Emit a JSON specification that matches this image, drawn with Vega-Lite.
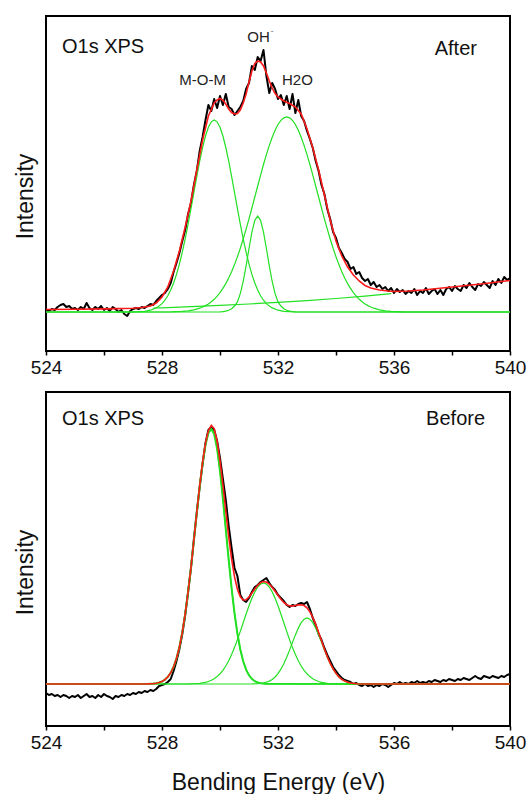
{
"$schema": "https://vega.github.io/schema/vega-lite/v6.json",
"padding": {"left": 13, "top": 15, "right": 5, "bottom": 5},
"spacing": 41,
"bounds": "flush",
"config": {"font": "Liberation Sans", "view": {"stroke": "black", "strokeWidth": 2}, "axis": {"grid": false, "domain": false, "labelFont": "Liberation Sans", "titleFont": "Liberation Sans", "labelColor": "#111", "titleColor": "#111", "titleFontWeight": "normal"}},
"datasets": {
"top": [
{"s":"d","x":524.0,"y":41},{"s":"d","x":524.1,"y":40},{"s":"d","x":524.2,"y":42},{"s":"d","x":524.3,"y":41},{"s":"d","x":524.4,"y":44},{"s":"d","x":524.5,"y":46},{"s":"d","x":524.6,"y":47},{"s":"d","x":524.7,"y":44},{"s":"d","x":524.8,"y":45},{"s":"d","x":524.9,"y":42},
{"s":"d","x":525.0,"y":43},{"s":"d","x":525.1,"y":41},{"s":"d","x":525.2,"y":44},{"s":"d","x":525.3,"y":42},{"s":"d","x":525.4,"y":48},{"s":"d","x":525.5,"y":43},{"s":"d","x":525.6,"y":41},{"s":"d","x":525.7,"y":44},{"s":"d","x":525.8,"y":42},{"s":"d","x":525.9,"y":45},
{"s":"d","x":526.0,"y":41},{"s":"d","x":526.1,"y":43},{"s":"d","x":526.2,"y":40},{"s":"d","x":526.3,"y":44},{"s":"d","x":526.4,"y":42},{"s":"d","x":526.5,"y":39},{"s":"d","x":526.6,"y":41},{"s":"d","x":526.7,"y":37},{"s":"d","x":526.8,"y":35},{"s":"d","x":526.9,"y":40},
{"s":"d","x":527.0,"y":42},{"s":"d","x":527.1,"y":43},{"s":"d","x":527.2,"y":42},{"s":"d","x":527.3,"y":44},{"s":"d","x":527.4,"y":43},{"s":"d","x":527.5,"y":45},{"s":"d","x":527.6,"y":47},{"s":"d","x":527.7,"y":46},{"s":"d","x":527.8,"y":50},{"s":"d","x":527.9,"y":53},
{"s":"d","x":528.0,"y":56},{"s":"d","x":528.1,"y":58},{"s":"d","x":528.2,"y":62},{"s":"d","x":528.3,"y":68},{"s":"d","x":528.4,"y":79},{"s":"d","x":528.5,"y":88},{"s":"d","x":528.6,"y":98},{"s":"d","x":528.7,"y":110},{"s":"d","x":528.8,"y":121},{"s":"d","x":528.9,"y":137},
{"s":"d","x":529.0,"y":148},{"s":"d","x":529.1,"y":166},{"s":"d","x":529.2,"y":180},{"s":"d","x":529.3,"y":200},{"s":"d","x":529.4,"y":214},{"s":"d","x":529.5,"y":231},{"s":"d","x":529.6,"y":246},{"s":"d","x":529.7,"y":240},{"s":"d","x":529.8,"y":252},{"s":"d","x":529.9,"y":243},
{"s":"d","x":530.0,"y":255},{"s":"d","x":530.1,"y":246},{"s":"d","x":530.2,"y":257},{"s":"d","x":530.3,"y":244},{"s":"d","x":530.4,"y":242},{"s":"d","x":530.5,"y":236},{"s":"d","x":530.6,"y":240},{"s":"d","x":530.7,"y":244},{"s":"d","x":530.8,"y":250},{"s":"d","x":530.9,"y":262},
{"s":"d","x":531.0,"y":268},{"s":"d","x":531.1,"y":285},{"s":"d","x":531.2,"y":281},{"s":"d","x":531.3,"y":294},{"s":"d","x":531.4,"y":290},{"s":"d","x":531.5,"y":301},{"s":"d","x":531.6,"y":275},{"s":"d","x":531.7,"y":258},{"s":"d","x":531.8,"y":268},{"s":"d","x":531.9,"y":262},
{"s":"d","x":532.0,"y":252},{"s":"d","x":532.1,"y":256},{"s":"d","x":532.2,"y":246},{"s":"d","x":532.3,"y":255},{"s":"d","x":532.4,"y":242},{"s":"d","x":532.5,"y":257},{"s":"d","x":532.6,"y":238},{"s":"d","x":532.7,"y":251},{"s":"d","x":532.8,"y":235},{"s":"d","x":532.9,"y":230},
{"s":"d","x":533.0,"y":220},{"s":"d","x":533.1,"y":212},{"s":"d","x":533.2,"y":203},{"s":"d","x":533.3,"y":190},{"s":"d","x":533.4,"y":180},{"s":"d","x":533.5,"y":166},{"s":"d","x":533.6,"y":157},{"s":"d","x":533.7,"y":142},{"s":"d","x":533.8,"y":132},{"s":"d","x":533.9,"y":119},
{"s":"d","x":534.0,"y":113},{"s":"d","x":534.1,"y":103},{"s":"d","x":534.2,"y":98},{"s":"d","x":534.3,"y":92},{"s":"d","x":534.4,"y":89},{"s":"d","x":534.5,"y":82},{"s":"d","x":534.6,"y":84},{"s":"d","x":534.7,"y":77},{"s":"d","x":534.8,"y":79},{"s":"d","x":534.9,"y":73},
{"s":"d","x":535.0,"y":70},{"s":"d","x":535.1,"y":72},{"s":"d","x":535.2,"y":66},{"s":"d","x":535.3,"y":69},{"s":"d","x":535.4,"y":64},{"s":"d","x":535.5,"y":66},{"s":"d","x":535.6,"y":62},{"s":"d","x":535.7,"y":64},{"s":"d","x":535.8,"y":60},{"s":"d","x":535.9,"y":63},
{"s":"d","x":536.0,"y":58},{"s":"d","x":536.1,"y":62},{"s":"d","x":536.2,"y":59},{"s":"d","x":536.3,"y":61},{"s":"d","x":536.4,"y":57},{"s":"d","x":536.5,"y":60},{"s":"d","x":536.6,"y":58},{"s":"d","x":536.7,"y":62},{"s":"d","x":536.8,"y":56},{"s":"d","x":536.9,"y":60},
{"s":"d","x":537.0,"y":58},{"s":"d","x":537.1,"y":63},{"s":"d","x":537.2,"y":57},{"s":"d","x":537.3,"y":60},{"s":"d","x":537.4,"y":62},{"s":"d","x":537.5,"y":57},{"s":"d","x":537.6,"y":61},{"s":"d","x":537.7,"y":56},{"s":"d","x":537.8,"y":62},{"s":"d","x":537.9,"y":64},
{"s":"d","x":538.0,"y":60},{"s":"d","x":538.1,"y":65},{"s":"d","x":538.2,"y":62},{"s":"d","x":538.3,"y":60},{"s":"d","x":538.4,"y":66},{"s":"d","x":538.5,"y":63},{"s":"d","x":538.6,"y":68},{"s":"d","x":538.7,"y":64},{"s":"d","x":538.8,"y":61},{"s":"d","x":538.9,"y":67},
{"s":"d","x":539.0,"y":65},{"s":"d","x":539.1,"y":69},{"s":"d","x":539.2,"y":66},{"s":"d","x":539.3,"y":63},{"s":"d","x":539.4,"y":70},{"s":"d","x":539.5,"y":66},{"s":"d","x":539.6,"y":72},{"s":"d","x":539.7,"y":68},{"s":"d","x":539.8,"y":74},{"s":"d","x":539.9,"y":71},{"s":"d","x":540.0,"y":73},
{"s":"f","x":524,"y":41.5},{"s":"f","x":525,"y":41.8},{"s":"f","x":526,"y":42.1},{"s":"f","x":527,"y":42.8},{"s":"f","x":527.3,"y":43.5},{"s":"f","x":527.6,"y":45},{"s":"f","x":527.8,"y":48},{"s":"f","x":528.0,"y":54},{"s":"f","x":528.2,"y":64},{"s":"f","x":528.4,"y":80},{"s":"f","x":528.6,"y":100},{"s":"f","x":528.8,"y":124},{"s":"f","x":529.0,"y":150},{"s":"f","x":529.2,"y":181},{"s":"f","x":529.4,"y":211},{"s":"f","x":529.6,"y":235},{"s":"f","x":529.8,"y":248},{"s":"f","x":529.9,"y":251},{"s":"f","x":530.0,"y":252.5},{"s":"f","x":530.1,"y":251},{"s":"f","x":530.2,"y":247},{"s":"f","x":530.3,"y":242},{"s":"f","x":530.4,"y":238.5},{"s":"f","x":530.5,"y":237},{"s":"f","x":530.6,"y":237.5},{"s":"f","x":530.7,"y":241},{"s":"f","x":530.8,"y":248},{"s":"f","x":530.9,"y":257},{"s":"f","x":531.0,"y":269},{"s":"f","x":531.1,"y":280},{"s":"f","x":531.2,"y":287.5},{"s":"f","x":531.3,"y":290},{"s":"f","x":531.4,"y":289},{"s":"f","x":531.5,"y":285},{"s":"f","x":531.6,"y":278},{"s":"f","x":531.7,"y":270},{"s":"f","x":531.8,"y":263},{"s":"f","x":531.9,"y":257.5},{"s":"f","x":532.0,"y":254},{"s":"f","x":532.2,"y":250},{"s":"f","x":532.4,"y":247.5},{"s":"f","x":532.6,"y":244},{"s":"f","x":532.8,"y":237},{"s":"f","x":533.0,"y":222},{"s":"f","x":533.2,"y":203},{"s":"f","x":533.4,"y":181},{"s":"f","x":533.6,"y":156},{"s":"f","x":533.8,"y":131},{"s":"f","x":534.0,"y":110},{"s":"f","x":534.2,"y":95},{"s":"f","x":534.4,"y":84},{"s":"f","x":534.6,"y":76},{"s":"f","x":534.8,"y":70},{"s":"f","x":535.0,"y":65.5},{"s":"f","x":535.2,"y":63},{"s":"f","x":535.5,"y":61},{"s":"f","x":535.8,"y":60},{"s":"f","x":536.0,"y":59.5},{"s":"f","x":536.5,"y":60},{"s":"f","x":537,"y":61},{"s":"f","x":537.5,"y":62.5},{"s":"f","x":538,"y":64},{"s":"f","x":538.5,"y":65.5},{"s":"f","x":539,"y":67},{"s":"f","x":539.5,"y":68.8},{"s":"f","x":540,"y":70.5},
{"s":"c1","x":524,"y":39},{"s":"c1","x":527.0,"y":39.1},{"s":"c1","x":527.2,"y":39.3},{"s":"c1","x":527.4,"y":39.7},{"s":"c1","x":527.6,"y":40.8},{"s":"c1","x":527.8,"y":43.1},{"s":"c1","x":527.9,"y":44.9},{"s":"c1","x":528.0,"y":47.4},{"s":"c1","x":528.1,"y":50.8},{"s":"c1","x":528.2,"y":55.3},{"s":"c1","x":528.3,"y":60.9},{"s":"c1","x":528.4,"y":68.0},{"s":"c1","x":528.5,"y":76.6},{"s":"c1","x":528.6,"y":86.9},{"s":"c1","x":528.7,"y":98.8},{"s":"c1","x":528.8,"y":112.2},{"s":"c1","x":528.9,"y":126.9},{"s":"c1","x":529.0,"y":142.6},{"s":"c1","x":529.1,"y":158.7},{"s":"c1","x":529.2,"y":174.7},{"s":"c1","x":529.3,"y":189.9},{"s":"c1","x":529.4,"y":203.5},{"s":"c1","x":529.5,"y":215.0},{"s":"c1","x":529.6,"y":223.7},{"s":"c1","x":529.7,"y":229.2},{"s":"c1","x":529.8,"y":231.0},{"s":"c1","x":529.9,"y":229.2},{"s":"c1","x":530.0,"y":223.7},{"s":"c1","x":530.1,"y":215.0},{"s":"c1","x":530.2,"y":203.5},{"s":"c1","x":530.3,"y":189.9},{"s":"c1","x":530.4,"y":174.7},{"s":"c1","x":530.5,"y":158.7},{"s":"c1","x":530.6,"y":142.6},{"s":"c1","x":530.7,"y":126.9},{"s":"c1","x":530.8,"y":112.2},{"s":"c1","x":530.9,"y":98.8},{"s":"c1","x":531.0,"y":86.9},{"s":"c1","x":531.1,"y":76.6},{"s":"c1","x":531.2,"y":68.0},{"s":"c1","x":531.3,"y":60.9},{"s":"c1","x":531.4,"y":55.3},{"s":"c1","x":531.5,"y":50.8},{"s":"c1","x":531.6,"y":47.4},{"s":"c1","x":531.7,"y":44.9},{"s":"c1","x":531.8,"y":43.1},{"s":"c1","x":532.0,"y":40.8},{"s":"c1","x":532.2,"y":39.7},{"s":"c1","x":532.4,"y":39.3},{"s":"c1","x":532.6,"y":39.1},{"s":"c1","x":540,"y":39},
{"s":"c2","x":524,"y":39},{"s":"c2","x":530.0,"y":39.1},{"s":"c2","x":530.1,"y":39.4},{"s":"c2","x":530.2,"y":39.9},{"s":"c2","x":530.3,"y":40.8},{"s":"c2","x":530.4,"y":42.2},{"s":"c2","x":530.5,"y":45.0},{"s":"c2","x":530.6,"y":49.1},{"s":"c2","x":530.7,"y":57.4},{"s":"c2","x":530.8,"y":69.5},{"s":"c2","x":530.9,"y":85.1},{"s":"c2","x":531.0,"y":102.5},{"s":"c2","x":531.1,"y":118.9},{"s":"c2","x":531.2,"y":130.7},{"s":"c2","x":531.3,"y":135},{"s":"c2","x":531.4,"y":130.7},{"s":"c2","x":531.5,"y":118.9},{"s":"c2","x":531.6,"y":102.5},{"s":"c2","x":531.7,"y":85.1},{"s":"c2","x":531.8,"y":69.5},{"s":"c2","x":531.9,"y":57.4},{"s":"c2","x":532.0,"y":49.1},{"s":"c2","x":532.1,"y":45.0},{"s":"c2","x":532.2,"y":42.2},{"s":"c2","x":532.3,"y":40.8},{"s":"c2","x":532.4,"y":39.9},{"s":"c2","x":532.5,"y":39.4},{"s":"c2","x":532.6,"y":39.1},{"s":"c2","x":540,"y":39},
{"s":"c3","x":524,"y":39},{"s":"c3","x":528.3,"y":39.2},{"s":"c3","x":528.5,"y":39.4},{"s":"c3","x":528.7,"y":39.7},{"s":"c3","x":528.9,"y":40.2},{"s":"c3","x":529.1,"y":41.2},{"s":"c3","x":529.3,"y":42.8},{"s":"c3","x":529.4,"y":44.0},{"s":"c3","x":529.5,"y":45.4},{"s":"c3","x":529.6,"y":47.1},{"s":"c3","x":529.7,"y":49.2},{"s":"c3","x":529.8,"y":51.7},{"s":"c3","x":529.9,"y":54.8},{"s":"c3","x":530.0,"y":58.3},{"s":"c3","x":530.1,"y":62.6},{"s":"c3","x":530.2,"y":67.4},{"s":"c3","x":530.3,"y":73.0},{"s":"c3","x":530.4,"y":79.3},{"s":"c3","x":530.5,"y":86.4},{"s":"c3","x":530.6,"y":94.2},{"s":"c3","x":530.7,"y":102.7},{"s":"c3","x":530.8,"y":112.0},{"s":"c3","x":530.9,"y":121.9},{"s":"c3","x":531.0,"y":132.2},{"s":"c3","x":531.1,"y":143.0},{"s":"c3","x":531.2,"y":154.0},{"s":"c3","x":531.3,"y":165.0},{"s":"c3","x":531.4,"y":175.9},{"s":"c3","x":531.5,"y":186.5},{"s":"c3","x":531.6,"y":196.4},{"s":"c3","x":531.7,"y":205.6},{"s":"c3","x":531.8,"y":213.8},{"s":"c3","x":531.9,"y":220.8},{"s":"c3","x":532.0,"y":226.5},{"s":"c3","x":532.1,"y":230.6},{"s":"c3","x":532.2,"y":233.1},{"s":"c3","x":532.3,"y":234.0},{"s":"c3","x":532.4,"y":233.1},{"s":"c3","x":532.5,"y":230.6},{"s":"c3","x":532.6,"y":226.5},{"s":"c3","x":532.7,"y":220.8},{"s":"c3","x":532.8,"y":213.8},{"s":"c3","x":532.9,"y":205.6},{"s":"c3","x":533.0,"y":196.4},{"s":"c3","x":533.1,"y":186.5},{"s":"c3","x":533.2,"y":175.9},{"s":"c3","x":533.3,"y":165.0},{"s":"c3","x":533.4,"y":154.0},{"s":"c3","x":533.5,"y":143.0},{"s":"c3","x":533.6,"y":132.2},{"s":"c3","x":533.7,"y":121.9},{"s":"c3","x":533.8,"y":112.0},{"s":"c3","x":533.9,"y":102.7},{"s":"c3","x":534.0,"y":94.2},{"s":"c3","x":534.1,"y":86.4},{"s":"c3","x":534.2,"y":79.3},{"s":"c3","x":534.3,"y":73.0},{"s":"c3","x":534.4,"y":67.4},{"s":"c3","x":534.5,"y":62.6},{"s":"c3","x":534.6,"y":58.3},{"s":"c3","x":534.7,"y":54.8},{"s":"c3","x":534.8,"y":51.7},{"s":"c3","x":534.9,"y":49.2},{"s":"c3","x":535.0,"y":47.1},{"s":"c3","x":535.1,"y":45.4},{"s":"c3","x":535.2,"y":44.0},{"s":"c3","x":535.3,"y":42.8},{"s":"c3","x":535.5,"y":41.2},{"s":"c3","x":535.7,"y":40.2},{"s":"c3","x":535.9,"y":39.7},{"s":"c3","x":536.1,"y":39.4},{"s":"c3","x":536.3,"y":39.2},{"s":"c3","x":540,"y":39},
{"s":"bg","x":527.7,"y":43.0},{"s":"bg","x":528,"y":43.2},{"s":"bg","x":529,"y":44.3},{"s":"bg","x":530,"y":45.6},{"s":"bg","x":531,"y":47.0},{"s":"bg","x":532,"y":48.6},{"s":"bg","x":533,"y":50.4},{"s":"bg","x":534,"y":52.5},{"s":"bg","x":535,"y":54.9},{"s":"bg","x":535.9,"y":57.3}
],
"bottom": [
{"s":"d","x":524.0,"y":33},{"s":"d","x":524.1,"y":31},{"s":"d","x":524.2,"y":32},{"s":"d","x":524.3,"y":30},{"s":"d","x":524.4,"y":31},{"s":"d","x":524.5,"y":29},{"s":"d","x":524.6,"y":31},{"s":"d","x":524.7,"y":30},{"s":"d","x":524.8,"y":28},{"s":"d","x":524.9,"y":30},
{"s":"d","x":525.0,"y":29},{"s":"d","x":525.1,"y":31},{"s":"d","x":525.2,"y":28},{"s":"d","x":525.3,"y":30},{"s":"d","x":525.4,"y":32},{"s":"d","x":525.5,"y":29},{"s":"d","x":525.6,"y":30},{"s":"d","x":525.7,"y":28},{"s":"d","x":525.8,"y":31},{"s":"d","x":525.9,"y":29},
{"s":"d","x":526.0,"y":32},{"s":"d","x":526.1,"y":30},{"s":"d","x":526.2,"y":29},{"s":"d","x":526.3,"y":27},{"s":"d","x":526.4,"y":30},{"s":"d","x":526.5,"y":29},{"s":"d","x":526.6,"y":31},{"s":"d","x":526.7,"y":30},{"s":"d","x":526.8,"y":32},{"s":"d","x":526.9,"y":31},
{"s":"d","x":527.0,"y":33},{"s":"d","x":527.1,"y":32},{"s":"d","x":527.2,"y":34},{"s":"d","x":527.3,"y":33},{"s":"d","x":527.4,"y":35},{"s":"d","x":527.5,"y":34},{"s":"d","x":527.6,"y":36},{"s":"d","x":527.7,"y":35},{"s":"d","x":527.8,"y":37},{"s":"d","x":527.9,"y":40},
{"s":"d","x":528.0,"y":41},{"s":"d","x":528.1,"y":42},{"s":"d","x":528.2,"y":44},{"s":"d","x":528.3,"y":47},{"s":"d","x":528.4,"y":55},{"s":"d","x":528.5,"y":65},{"s":"d","x":528.6,"y":77},{"s":"d","x":528.7,"y":92},{"s":"d","x":528.8,"y":111},{"s":"d","x":528.9,"y":134},
{"s":"d","x":529.0,"y":158},{"s":"d","x":529.1,"y":187},{"s":"d","x":529.2,"y":214},{"s":"d","x":529.3,"y":239},{"s":"d","x":529.4,"y":262},{"s":"d","x":529.5,"y":283},{"s":"d","x":529.6,"y":296},{"s":"d","x":529.7,"y":299},{"s":"d","x":529.8,"y":296},{"s":"d","x":529.9,"y":285},
{"s":"d","x":530.0,"y":268},{"s":"d","x":530.1,"y":247},{"s":"d","x":530.2,"y":226},{"s":"d","x":530.3,"y":200},{"s":"d","x":530.4,"y":178},{"s":"d","x":530.5,"y":158},{"s":"d","x":530.6,"y":150},{"s":"d","x":530.7,"y":131},{"s":"d","x":530.8,"y":126},{"s":"d","x":530.9,"y":124},
{"s":"d","x":531.0,"y":128},{"s":"d","x":531.1,"y":134},{"s":"d","x":531.2,"y":139},{"s":"d","x":531.3,"y":141},{"s":"d","x":531.4,"y":144},{"s":"d","x":531.5,"y":146},{"s":"d","x":531.6,"y":148},{"s":"d","x":531.7,"y":143},{"s":"d","x":531.8,"y":139},{"s":"d","x":531.9,"y":136},
{"s":"d","x":532.0,"y":131},{"s":"d","x":532.1,"y":128},{"s":"d","x":532.2,"y":125},{"s":"d","x":532.3,"y":121},{"s":"d","x":532.4,"y":119},{"s":"d","x":532.5,"y":121},{"s":"d","x":532.6,"y":120},{"s":"d","x":532.7,"y":122},{"s":"d","x":532.8,"y":123},{"s":"d","x":532.9,"y":122},
{"s":"d","x":533.0,"y":124},{"s":"d","x":533.1,"y":117},{"s":"d","x":533.2,"y":108},{"s":"d","x":533.3,"y":101},{"s":"d","x":533.4,"y":92},{"s":"d","x":533.5,"y":86},{"s":"d","x":533.6,"y":78},{"s":"d","x":533.7,"y":71},{"s":"d","x":533.8,"y":65},{"s":"d","x":533.9,"y":59},
{"s":"d","x":534.0,"y":55},{"s":"d","x":534.1,"y":51},{"s":"d","x":534.2,"y":48},{"s":"d","x":534.3,"y":46},{"s":"d","x":534.4,"y":45},{"s":"d","x":534.5,"y":44},{"s":"d","x":534.6,"y":42},{"s":"d","x":534.7,"y":43},{"s":"d","x":534.8,"y":41},{"s":"d","x":534.9,"y":40},
{"s":"d","x":535.0,"y":42},{"s":"d","x":535.1,"y":40},{"s":"d","x":535.2,"y":41},{"s":"d","x":535.3,"y":39},{"s":"d","x":535.4,"y":41},{"s":"d","x":535.5,"y":40},{"s":"d","x":535.6,"y":42},{"s":"d","x":535.7,"y":41},{"s":"d","x":535.8,"y":39},{"s":"d","x":535.9,"y":41},
{"s":"d","x":536.0,"y":43},{"s":"d","x":536.1,"y":42},{"s":"d","x":536.2,"y":44},{"s":"d","x":536.3,"y":42},{"s":"d","x":536.4,"y":43},{"s":"d","x":536.5,"y":42},{"s":"d","x":536.6,"y":44},{"s":"d","x":536.7,"y":43},{"s":"d","x":536.8,"y":45},{"s":"d","x":536.9,"y":43},
{"s":"d","x":537.0,"y":44},{"s":"d","x":537.1,"y":43},{"s":"d","x":537.2,"y":45},{"s":"d","x":537.3,"y":44},{"s":"d","x":537.4,"y":46},{"s":"d","x":537.5,"y":45},{"s":"d","x":537.6,"y":44},{"s":"d","x":537.7,"y":46},{"s":"d","x":537.8,"y":45},{"s":"d","x":537.9,"y":47},
{"s":"d","x":538.0,"y":46},{"s":"d","x":538.1,"y":45},{"s":"d","x":538.2,"y":47},{"s":"d","x":538.3,"y":46},{"s":"d","x":538.4,"y":48},{"s":"d","x":538.5,"y":47},{"s":"d","x":538.6,"y":46},{"s":"d","x":538.7,"y":48},{"s":"d","x":538.8,"y":50},{"s":"d","x":538.9,"y":48},
{"s":"d","x":539.0,"y":47},{"s":"d","x":539.1,"y":50},{"s":"d","x":539.2,"y":49},{"s":"d","x":539.3,"y":48},{"s":"d","x":539.4,"y":50},{"s":"d","x":539.5,"y":49},{"s":"d","x":539.6,"y":48},{"s":"d","x":539.7,"y":50},{"s":"d","x":539.8,"y":49},{"s":"d","x":539.9,"y":51},{"s":"d","x":540.0,"y":52},
{"s":"f","x":524,"y":42},{"s":"f","x":527.5,"y":42.1},{"s":"f","x":527.7,"y":42.4},{"s":"f","x":527.8,"y":42.8},{"s":"f","x":527.9,"y":43.5},{"s":"f","x":528.0,"y":44.5},{"s":"f","x":528.1,"y":46.3},{"s":"f","x":528.2,"y":49.1},{"s":"f","x":528.3,"y":53.2},{"s":"f","x":528.4,"y":59.2},{"s":"f","x":528.5,"y":67.7},{"s":"f","x":528.6,"y":79.0},{"s":"f","x":528.7,"y":93.8},{"s":"f","x":528.8,"y":112.1},{"s":"f","x":528.9,"y":134.0},{"s":"f","x":529.0,"y":158.9},{"s":"f","x":529.1,"y":185.9},{"s":"f","x":529.2,"y":213.7},{"s":"f","x":529.3,"y":240.3},{"s":"f","x":529.4,"y":264.1},{"s":"f","x":529.5,"y":282.9},{"s":"f","x":529.6,"y":295.5},{"s":"f","x":529.7,"y":300.7},{"s":"f","x":529.8,"y":297.3},{"s":"f","x":529.9,"y":284.8},{"s":"f","x":530.0,"y":265.2},{"s":"f","x":530.1,"y":240.9},{"s":"f","x":530.2,"y":214.7},{"s":"f","x":530.3,"y":189.3},{"s":"f","x":530.4,"y":167.1},{"s":"f","x":530.5,"y":149.3},{"s":"f","x":530.6,"y":136.7},{"s":"f","x":530.7,"y":129.1},{"s":"f","x":530.8,"y":126.0},{"s":"f","x":530.9,"y":126.3},{"s":"f","x":531.0,"y":129.0},{"s":"f","x":531.1,"y":133.0},{"s":"f","x":531.2,"y":137.0},{"s":"f","x":531.3,"y":140.8},{"s":"f","x":531.4,"y":143.4},{"s":"f","x":531.5,"y":144.4},{"s":"f","x":531.6,"y":144.0},{"s":"f","x":531.7,"y":141.9},{"s":"f","x":531.8,"y":138.7},{"s":"f","x":531.9,"y":134.8},{"s":"f","x":532.0,"y":130.7},{"s":"f","x":532.1,"y":126.8},{"s":"f","x":532.2,"y":123.5},{"s":"f","x":532.3,"y":121.3},{"s":"f","x":532.4,"y":120.1},{"s":"f","x":532.5,"y":120.0},{"s":"f","x":532.6,"y":120.5},{"s":"f","x":532.7,"y":121.1},{"s":"f","x":532.8,"y":121.3},{"s":"f","x":532.9,"y":120.5},{"s":"f","x":533.0,"y":118.2},{"s":"f","x":533.1,"y":114.2},{"s":"f","x":533.2,"y":108.6},{"s":"f","x":533.3,"y":101.6},{"s":"f","x":533.4,"y":93.6},{"s":"f","x":533.5,"y":85.3},{"s":"f","x":533.6,"y":77.1},{"s":"f","x":533.7,"y":69.4},{"s":"f","x":533.8,"y":62.7},{"s":"f","x":533.9,"y":57.1},{"s":"f","x":534.0,"y":52.6},{"s":"f","x":534.1,"y":49.1},{"s":"f","x":534.2,"y":46.6},{"s":"f","x":534.3,"y":44.9},{"s":"f","x":534.4,"y":43.8},{"s":"f","x":534.5,"y":43.0},{"s":"f","x":534.7,"y":42.3},{"s":"f","x":535.0,"y":42},{"s":"f","x":540,"y":42},
{"s":"c1","x":524,"y":42},{"s":"c1","x":527.5,"y":42.1},{"s":"c1","x":527.7,"y":42.4},{"s":"c1","x":527.8,"y":42.8},{"s":"c1","x":527.9,"y":43.5},{"s":"c1","x":528.0,"y":44.5},{"s":"c1","x":528.1,"y":46.3},{"s":"c1","x":528.2,"y":49.1},{"s":"c1","x":528.3,"y":53.2},{"s":"c1","x":528.4,"y":59.2},{"s":"c1","x":528.5,"y":67.7},{"s":"c1","x":528.6,"y":79.0},{"s":"c1","x":528.7,"y":93.8},{"s":"c1","x":528.8,"y":112.1},{"s":"c1","x":528.9,"y":133.9},{"s":"c1","x":529.0,"y":158.7},{"s":"c1","x":529.1,"y":185.6},{"s":"c1","x":529.2,"y":213.2},{"s":"c1","x":529.3,"y":239.6},{"s":"c1","x":529.4,"y":262.9},{"s":"c1","x":529.5,"y":281.2},{"s":"c1","x":529.6,"y":293.0},{"s":"c1","x":529.7,"y":297.0},{"s":"c1","x":529.8,"y":292.0},{"s":"c1","x":529.9,"y":277.4},{"s":"c1","x":530.0,"y":255.0},{"s":"c1","x":530.1,"y":227.2},{"s":"c1","x":530.2,"y":196.7},{"s":"c1","x":530.3,"y":166.1},{"s":"c1","x":530.4,"y":137.7},{"s":"c1","x":530.5,"y":112.9},{"s":"c1","x":530.6,"y":92.5},{"s":"c1","x":530.7,"y":76.5},{"s":"c1","x":530.8,"y":64.7},{"s":"c1","x":530.9,"y":56.3},{"s":"c1","x":531.0,"y":50.7},{"s":"c1","x":531.1,"y":47.1},{"s":"c1","x":531.2,"y":44.8},{"s":"c1","x":531.3,"y":43.5},{"s":"c1","x":531.4,"y":42.8},{"s":"c1","x":531.5,"y":42.4},{"s":"c1","x":531.6,"y":42.2},{"s":"c1","x":540,"y":42},
{"s":"c2","x":524,"y":42},{"s":"c2","x":528.9,"y":42.1},{"s":"c2","x":529.1,"y":42.3},{"s":"c2","x":529.3,"y":42.7},{"s":"c2","x":529.5,"y":43.7},{"s":"c2","x":529.6,"y":44.5},{"s":"c2","x":529.7,"y":45.7},{"s":"c2","x":529.8,"y":47.3},{"s":"c2","x":529.9,"y":49.4},{"s":"c2","x":530.0,"y":52.2},{"s":"c2","x":530.1,"y":55.7},{"s":"c2","x":530.2,"y":60.0},{"s":"c2","x":530.3,"y":65.2},{"s":"c2","x":530.4,"y":71.4},{"s":"c2","x":530.5,"y":78.4},{"s":"c2","x":530.6,"y":86.2},{"s":"c2","x":530.7,"y":94.6},{"s":"c2","x":530.8,"y":103.3},{"s":"c2","x":530.9,"y":112.0},{"s":"c2","x":531.0,"y":120.3},{"s":"c2","x":531.1,"y":127.8},{"s":"c2","x":531.2,"y":134.1},{"s":"c2","x":531.3,"y":139.0},{"s":"c2","x":531.4,"y":142.0},{"s":"c2","x":531.5,"y":143},{"s":"c2","x":531.6,"y":142.0},{"s":"c2","x":531.7,"y":139.0},{"s":"c2","x":531.8,"y":134.1},{"s":"c2","x":531.9,"y":127.8},{"s":"c2","x":532.0,"y":120.3},{"s":"c2","x":532.1,"y":112.0},{"s":"c2","x":532.2,"y":103.3},{"s":"c2","x":532.3,"y":94.6},{"s":"c2","x":532.4,"y":86.2},{"s":"c2","x":532.5,"y":78.4},{"s":"c2","x":532.6,"y":71.4},{"s":"c2","x":532.7,"y":65.2},{"s":"c2","x":532.8,"y":60.0},{"s":"c2","x":532.9,"y":55.7},{"s":"c2","x":533.0,"y":52.2},{"s":"c2","x":533.1,"y":49.4},{"s":"c2","x":533.2,"y":47.3},{"s":"c2","x":533.3,"y":45.7},{"s":"c2","x":533.4,"y":44.5},{"s":"c2","x":533.5,"y":43.7},{"s":"c2","x":533.7,"y":42.7},{"s":"c2","x":533.9,"y":42.3},{"s":"c2","x":534.1,"y":42.1},{"s":"c2","x":540,"y":42},
{"s":"c3","x":524,"y":42},{"s":"c3","x":531.1,"y":42.1},{"s":"c3","x":531.3,"y":42.3},{"s":"c3","x":531.5,"y":43.0},{"s":"c3","x":531.6,"y":43.8},{"s":"c3","x":531.7,"y":44.9},{"s":"c3","x":531.8,"y":46.6},{"s":"c3","x":531.9,"y":49.0},{"s":"c3","x":532.0,"y":52.4},{"s":"c3","x":532.1,"y":56.8},{"s":"c3","x":532.2,"y":62.2},{"s":"c3","x":532.3,"y":68.7},{"s":"c3","x":532.4,"y":75.9},{"s":"c3","x":532.5,"y":83.6},{"s":"c3","x":532.6,"y":91.1},{"s":"c3","x":532.7,"y":97.9},{"s":"c3","x":532.8,"y":103.3},{"s":"c3","x":532.9,"y":106.8},{"s":"c3","x":533.0,"y":108},{"s":"c3","x":533.1,"y":106.8},{"s":"c3","x":533.2,"y":103.3},{"s":"c3","x":533.3,"y":97.9},{"s":"c3","x":533.4,"y":91.1},{"s":"c3","x":533.5,"y":83.6},{"s":"c3","x":533.6,"y":75.9},{"s":"c3","x":533.7,"y":68.7},{"s":"c3","x":533.8,"y":62.2},{"s":"c3","x":533.9,"y":56.8},{"s":"c3","x":534.0,"y":52.4},{"s":"c3","x":534.1,"y":49.0},{"s":"c3","x":534.2,"y":46.6},{"s":"c3","x":534.3,"y":44.9},{"s":"c3","x":534.4,"y":43.8},{"s":"c3","x":534.5,"y":43.0},{"s":"c3","x":534.7,"y":42.3},{"s":"c3","x":534.9,"y":42.1},{"s":"c3","x":540,"y":42}
]
},
"vconcat": [
{
"width": 464, "height": 335,
"data": {"name": "top"},
"encoding": {
"x": {"field": "x", "type": "quantitative", "scale": {"domain": [524, 540], "nice": false, "zero": false},
 "axis": {"values": [524,526,528,530,532,534,536,538,540], "labelExpr": "datum.value % 4 === 0 ? datum.label : ''", "title": null, "tickSize": 4, "tickWidth": 1.5, "tickColor": "black", "labelFontSize": 19, "labelPadding": 3, "labelFlush": false}},
"y": {"field": "y", "type": "quantitative", "scale": {"domain": [0, 335], "nice": false, "zero": false},
 "axis": {"title": "Intensity", "labels": false, "ticks": false, "titleFontSize": 23, "titleX": -21, "titleY": 180, "titleAngle": 270, "titleAlign": "center", "titleBaseline": "middle"}}
},
"layer": [
{"transform": [{"filter": "datum.s === 'd'"}], "mark": {"type": "line", "color": "black", "strokeWidth": 2, "strokeJoin": "round"}},
{"transform": [{"filter": "datum.s !== 'd' && datum.s !== 'f'"}], "mark": {"type": "line", "color": "#22e022", "strokeWidth": 1.2}, "encoding": {"detail": {"field": "s"}}},
{"transform": [{"filter": "datum.s === 'f'"}], "mark": {"type": "line", "color": "#ff1a1a", "strokeWidth": 1.6}},
{"data": {"values": [{"t": "O1s XPS", "x": 524.55, "y": 298}]}, "mark": {"type": "text", "align": "left", "baseline": "alphabetic", "fontSize": 20, "color": "#111"}, "encoding": {"text": {"field": "t"}}},
{"data": {"values": [{"t": "After", "x": 538.86, "y": 296}]}, "mark": {"type": "text", "align": "right", "baseline": "alphabetic", "fontSize": 20, "color": "#111"}, "encoding": {"text": {"field": "t"}}},
{"data": {"values": [{"t": "M-O-M", "x": 529.4, "y": 266}, {"t": "OH", "x": 531.33, "y": 309}, {"t": "H2O", "x": 532.67, "y": 266.5}]}, "mark": {"type": "text", "align": "center", "baseline": "alphabetic", "fontSize": 15, "color": "#222"}, "encoding": {"text": {"field": "t"}}},
{"data": {"values": [{"t": "-", "x": 531.8, "y": 318}]}, "mark": {"type": "text", "align": "center", "baseline": "alphabetic", "fontSize": 8, "color": "#444"}, "encoding": {"text": {"field": "t"}}}
]
},
{
"width": 464, "height": 334,
"data": {"name": "bottom"},
"encoding": {
"x": {"field": "x", "type": "quantitative", "scale": {"domain": [524, 540], "nice": false, "zero": false},
 "axis": {"values": [524,526,528,530,532,534,536,538,540], "labelExpr": "datum.value % 4 === 0 ? datum.label : ''", "title": "Bending Energy (eV)", "titleFontSize": 23, "titleY": 63, "titleBaseline": "alphabetic", "tickSize": 4, "tickWidth": 1.5, "tickColor": "black", "labelFontSize": 19, "labelPadding": 3, "labelFlush": false}},
"y": {"field": "y", "type": "quantitative", "scale": {"domain": [0, 334], "nice": false, "zero": false},
 "axis": {"title": "Intensity", "labels": false, "ticks": false, "titleFontSize": 23, "titleX": -21, "titleY": 180, "titleAngle": 270, "titleAlign": "center", "titleBaseline": "middle"}}
},
"layer": [
{"transform": [{"filter": "datum.s === 'd'"}], "mark": {"type": "line", "color": "black", "strokeWidth": 2, "strokeJoin": "round"}},
{"transform": [{"filter": "datum.s !== 'd' && datum.s !== 'f'"}], "mark": {"type": "line", "color": "#22e022", "strokeWidth": 1.2}, "encoding": {"detail": {"field": "s"}}},
{"transform": [{"filter": "datum.s === 'c1'"}], "mark": {"type": "line", "color": "#22e022", "strokeWidth": 2}},
{"transform": [{"filter": "datum.s === 'f'"}], "mark": {"type": "line", "color": "#ff1a1a", "strokeWidth": 1.6}},
{"data": {"values": [{"t": "O1s XPS", "x": 524.55, "y": 300.7}]}, "mark": {"type": "text", "align": "left", "baseline": "alphabetic", "fontSize": 20, "color": "#111"}, "encoding": {"text": {"field": "t"}}},
{"data": {"values": [{"t": "Before", "x": 539.14, "y": 300.7}]}, "mark": {"type": "text", "align": "right", "baseline": "alphabetic", "fontSize": 20, "color": "#111"}, "encoding": {"text": {"field": "t"}}}
]
}
]
}
